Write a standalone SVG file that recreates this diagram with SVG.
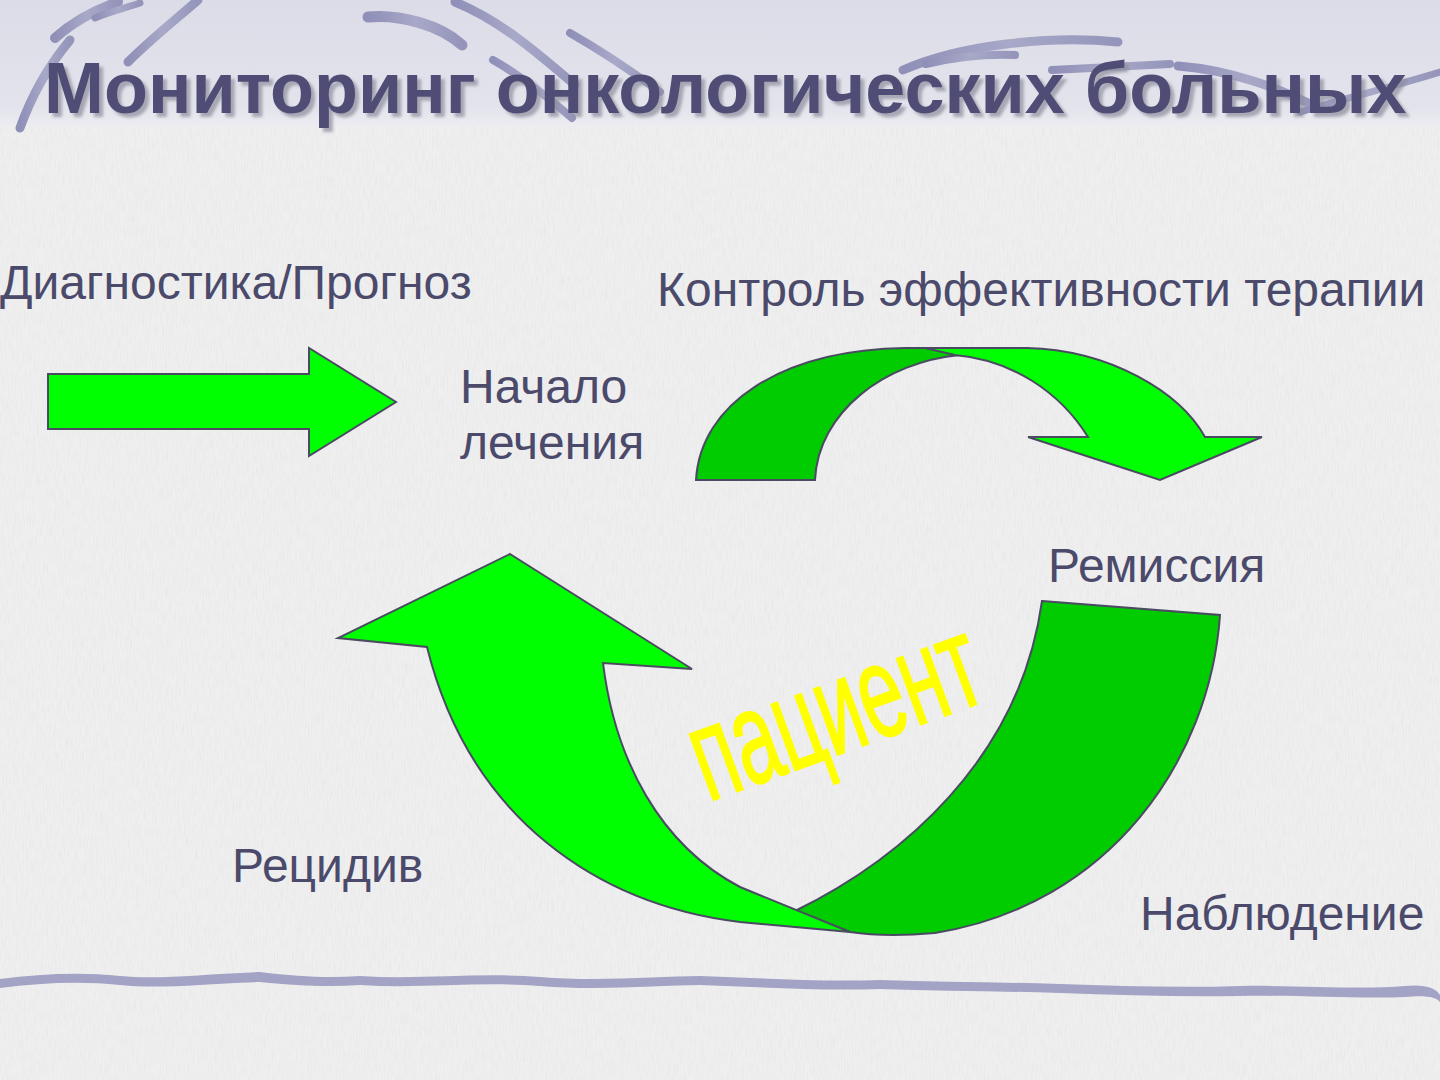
<svg xmlns="http://www.w3.org/2000/svg" width="1440" height="1080" viewBox="0 0 1440 1080">
<defs>
<style>
.lbl{font-family:"Liberation Sans",Arial,sans-serif;font-size:48px;fill:#4b4a6b;}
.title{font-family:"Liberation Sans",Arial,sans-serif;font-weight:bold;font-size:72px;fill:#4f4e74;}
.lg{fill:#00ff00;stroke:#4a4a62;stroke-width:2;stroke-linejoin:miter;}
.dg{fill:#00cc00;stroke:#4a4a62;stroke-width:2;stroke-linejoin:miter;}
.brush{fill:none;stroke:url(#brushGrad);stroke-linecap:round;}
</style>
<linearGradient id="band" x1="0" y1="0" x2="0" y2="1">
<stop offset="0" stop-color="#dcdce8"/>
<stop offset="0.85" stop-color="#e3e3ec"/>
<stop offset="1" stop-color="#ececf1"/>
</linearGradient>
<linearGradient id="brushGrad" x1="0" y1="0" x2="1" y2="0">
<stop offset="0" stop-color="#8f8fb8"/>
<stop offset="0.5" stop-color="#a8a8c8"/>
<stop offset="1" stop-color="#9595bb"/>
</linearGradient>
<filter id="noise" x="0" y="0" width="100%" height="100%">
<feTurbulence type="fractalNoise" baseFrequency="0.9 0.08" numOctaves="3" seed="4"/>
<feColorMatrix type="matrix" values="0 0 0 0 0.55  0 0 0 0 0.55  0 0 0 0 0.57  0 0 0 -0.9 0.55"/>
</filter>
<filter id="tshadow" x="-5%" y="-20%" width="110%" height="150%">
<feGaussianBlur in="SourceAlpha" stdDeviation="1.5"/>
<feOffset dx="4" dy="4" result="b"/>
<feFlood flood-color="#8c8c9c" flood-opacity="0.7"/>
<feComposite in2="b" operator="in"/>
<feMerge><feMergeNode/><feMergeNode in="SourceGraphic"/></feMerge>
</filter>
</defs>

<g id="background">
<rect width="1440" height="1080" fill="#efeff0"/>
<rect width="1440" height="1080" filter="url(#noise)" opacity="0.35"/>
<rect width="1440" height="126" fill="url(#band)"/>
<g id="brushes">
<path class="brush" stroke-width="9" d="M20,128 C30,100 45,70 70,40"/>
<path class="brush" stroke-width="10" d="M55,38 C75,20 95,10 118,2"/>
<path class="brush" stroke-width="9" d="M128,62 C150,40 175,20 198,0"/>
<path class="brush" stroke-width="7" d="M95,18 C110,12 125,8 140,3"/>
<path class="brush" stroke-width="11" d="M368,17 C400,14 440,25 462,45"/>
<path class="brush" stroke-width="9" d="M455,2 C500,20 540,55 575,85"/>
<path class="brush" stroke-width="8" d="M493,60 C520,75 545,95 572,118"/>
<path class="brush" stroke-width="8" d="M570,33 C600,50 630,70 660,92"/>
<path class="brush" stroke-width="9" d="M903,70 C960,45 1050,35 1118,42"/>
<path class="brush" stroke-width="8" d="M926,64 C960,56 990,54 1015,55"/>
<path class="brush" stroke-width="8" d="M1052,70 C1090,68 1130,66 1170,64"/>
<path class="brush" stroke-width="9" d="M1178,66 C1230,70 1280,88 1318,108"/>
<path class="brush" stroke-width="7" d="M1300,112 C1340,100 1380,90 1440,72"/>
</g>
<path id="bottom-line" d="M0,979 C40,974 80,972 120,976 C160,980 200,974 260,972 C300,977 330,978 360,976 C420,980 480,972 540,977 C600,982 660,976 700,976 C760,978 820,982 880,980 C940,982 1000,982 1060,984 C1120,986 1180,988 1240,986 C1300,985 1360,990 1405,986 C1425,984 1436,988 1440,995 L1440,1002 C1436,997 1426,995 1405,997 C1360,999 1300,995 1240,996 C1180,997 1120,995 1060,993 C1000,991 940,991 880,989 C820,991 760,987 700,985 C660,985 600,991 540,986 C480,981 420,989 360,985 C330,987 300,986 260,982 C200,984 160,989 120,985 C80,981 40,983 0,988 Z" fill="#a3a3c6"/>
</g>

<g id="title">
<text class="title" x="44" y="113" filter="url(#tshadow)">Мониторинг онкологических больных</text>
</g>

<g id="connectors">
<path id="arrow-straight" class="lg" d="M48,374 L309,374 L309,348 L396,402 L309,456 L309,429 L48,429 Z"/>
<path id="arc-top-back" class="dg" d="M696,480 C700,405 780,350 905,348 L960,348 L960,355 C885,362 818,412 815,480 Z"/>
<path id="arc-top-front" class="lg" d="M925,348 L1027,348 C1110,350 1180,392 1205,437 L1262,437 L1160,480 L1028,437 L1088,437 C1060,392 1012,360 955,355 Z"/>
<path id="arc-bottom-back" class="dg" d="M1042,601 L1220,615 C1210,760 1110,905 935,933 C900,936 870,935 850,932 L793,912 C900,860 1020,760 1042,601 Z"/>
<path id="arc-bottom-front" class="lg" d="M510,554 L692,669 L603,663 C615,760 660,845 740,887 L850,932 L740,922 C600,905 470,820 427,647 L338,638 Z"/>
</g>

<g id="labels">
<text class="lbl" x="0" y="299">Диагностика/Прогноз</text>
<text class="lbl" x="657" y="306">Контроль эффективности терапии</text>
<text class="lbl" x="460" y="403">Начало</text>
<text class="lbl" x="460" y="459">лечения</text>
<text class="lbl" x="1048" y="582">Ремиссия</text>
<text class="lbl" x="232" y="882">Рецидив</text>
<text class="lbl" x="1140" y="930">Наблюдение</text>
</g>

<g id="patient">
<text transform="translate(708,802) rotate(-20) scale(0.6,1)" font-family="Liberation Sans, Arial, sans-serif" font-size="132" fill="#ffff00" stroke="#ffff00" stroke-width="2">пациент</text>
</g>
</svg>
